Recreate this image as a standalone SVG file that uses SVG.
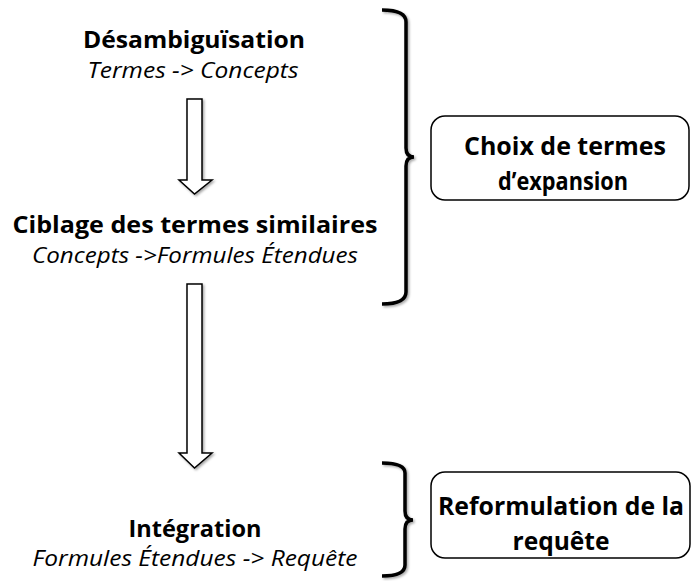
<svg xmlns="http://www.w3.org/2000/svg" width="693" height="581" viewBox="0 0 693 581">
<defs>
<filter id="sh" x="-20%" y="-20%" width="140%" height="140%">
<feDropShadow dx="1.5" dy="1.5" stdDeviation="1.2" flood-color="#000" flood-opacity="0.35"/>
</filter>
</defs>
<style>
.t{font-family:"Open Sans","Liberation Sans",sans-serif;fill:#000;text-anchor:middle}
.b{font-weight:bold;font-size:23px}
.i{font-style:italic;font-size:21px}
.bb{font-weight:bold;font-size:25px}
.arrow{fill:#fff;stroke:#000;stroke-width:1.5;filter:url(#sh)}
.br{fill:none;stroke:#000;stroke-width:3.5;filter:url(#sh)}
.box{fill:#fff;stroke:#000;stroke-width:1.5}
</style>
<rect width="693" height="581" fill="#fff"/>
<g id="connectors">
<path class="arrow" d="M187,99 H202 V180 H212 L194.5,194 L179,180 H187 Z"/>
<path class="arrow" d="M187,284 H202 V453 H212 L194.5,468 L179,453 H187 Z"/>
<path class="br" d="M382,10 Q406,10 406,22 L406,148 Q406,157 414,157 Q406,157 406,166 L406,292 Q406,304 382,304"/>
<line class="br" x1="412" y1="157" x2="432" y2="157"/>
<path class="br" d="M382,463 Q405,463 405,473 L405,511 Q405,520 413,520 Q405,520 405,529 L405,565 Q405,576 382,576"/>
<line class="br" x1="411" y1="520" x2="432" y2="520"/>
</g>
<g id="n1">
<text class="t b" x="194" y="48" textLength="222" lengthAdjust="spacingAndGlyphs">Désambiguïsation</text>
<text class="t i" x="193" y="78" textLength="211" lengthAdjust="spacingAndGlyphs">Termes -&gt; Concepts</text>
</g>
<g id="n2">
<text class="t b" x="195" y="233" textLength="365" lengthAdjust="spacingAndGlyphs">Ciblage des termes similaires</text>
<text class="t i" x="195" y="263" textLength="326" lengthAdjust="spacingAndGlyphs">Concepts -&gt;Formules Étendues</text>
</g>
<g id="n3">
<text class="t b" x="195" y="537" textLength="133" lengthAdjust="spacingAndGlyphs">Intégration</text>
<text class="t i" x="195" y="566" textLength="325" lengthAdjust="spacingAndGlyphs">Formules Étendues -&gt; Requête</text>
</g>
<g id="box1">
<rect class="box" x="431" y="116" width="258" height="84" rx="14"/>
<text class="t bb" x="565" y="155" textLength="202" lengthAdjust="spacingAndGlyphs">Choix de termes</text>
<text class="t bb" x="563" y="190" textLength="130" lengthAdjust="spacingAndGlyphs">d’expansion</text>
</g>
<g id="box2">
<rect class="box" x="431" y="472" width="259" height="86" rx="14"/>
<text class="t bb" x="561" y="515" textLength="246" lengthAdjust="spacingAndGlyphs">Reformulation de la</text>
<text class="t bb" x="561" y="550" textLength="97" lengthAdjust="spacingAndGlyphs">requête</text>
</g>
</svg>
